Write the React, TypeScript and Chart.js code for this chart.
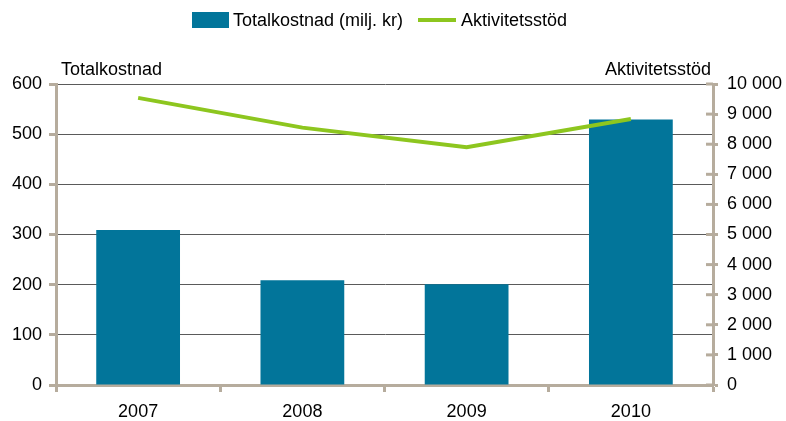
import React, { useEffect, useRef } from "react";
import { Chart, registerables } from "chart.js";

Chart.register(...registerables);

const categories = ["2007", "2008", "2009", "2010"];
const totalkostnad = [309, 209, 201, 529];
const aktivitetsstod = [9540, 8550, 7900, 8840];
const leftTicks = { min: 0, max: 600, step: 100 };
const rightTicks = { min: 0, max: 10000, step: 1000 };
const legendLabels = ["Totalkostnad (milj. kr)", "Aktivitetsstöd"];
const axisTitles = ["Totalkostnad", "Aktivitetsstöd"];

const TEAL = "#02759a";
const GREEN = "#8dc61f";
const TAN = "#b6ac9d";
const GRID = "#5a5a5a";
const FONT = "'Liberation Sans', Arial, sans-serif";

function fmt(v: number): string {
  return String(v).replace(/\B(?=(\d{3})+(?!\d))/g, " ");
}

const extras = {
  id: "extras",
  afterDraw(chart: any) {
    const ctx = chart.ctx;
    const area = chart.chartArea;
    ctx.save();
    // inward stubs on right axis
    const ry = chart.scales.y1;
    ctx.strokeStyle = TAN;
    ctx.lineWidth = 3;
    for (let v = rightTicks.min; v <= rightTicks.max; v += rightTicks.step) {
      const y = ry.getPixelForValue(v);
      ctx.beginPath();
      ctx.moveTo(area.right - 7, y);
      ctx.lineTo(area.right, y);
      ctx.stroke();
    }
    // legend
    ctx.font = `18px ${FONT}`;
    ctx.textBaseline = "middle";
    ctx.fillStyle = TEAL;
    ctx.fillRect(192, 12, 37, 16);
    ctx.fillStyle = "#000";
    ctx.textAlign = "left";
    ctx.fillText(legendLabels[0], 233, 21);
    ctx.strokeStyle = GREEN;
    ctx.lineWidth = 4;
    ctx.beginPath();
    ctx.moveTo(418, 20);
    ctx.lineTo(456, 20);
    ctx.stroke();
    ctx.fillText(legendLabels[1], 461, 21);
    // axis titles
    ctx.textAlign = "left";
    ctx.fillText(axisTitles[0], area.left + 5, 70);
    ctx.textAlign = "right";
    ctx.fillText(axisTitles[1], area.right - 2, 70);
    ctx.restore();
  },
};

export default function App() {
  const ref = useRef<HTMLCanvasElement>(null);
  useEffect(() => {
    if (!ref.current) return;
    const chart = new Chart(ref.current, {
      type: "bar",
      data: {
        labels: categories,
        datasets: [
          {
            type: "line",
            label: legendLabels[1],
            data: aktivitetsstod,
            yAxisID: "y1",
            borderColor: GREEN,
            backgroundColor: GREEN,
            borderWidth: 4,
            pointRadius: 0,
            tension: 0,
            order: 0,
          } as any,
          {
            type: "bar",
            label: legendLabels[0],
            data: totalkostnad,
            yAxisID: "y",
            backgroundColor: TEAL,
            categoryPercentage: 1,
            barPercentage: 0.51,
            order: 1,
          },
        ],
      },
      options: {
        animation: false,
        responsive: true,
        maintainAspectRatio: false,
        layout: { padding: { top: 84, left: 0, right: 0, bottom: 0 } },
        plugins: { legend: { display: false }, tooltip: { enabled: false } },
        scales: {
          x: {
            grid: {
              offset: true,
              drawOnChartArea: false,
              drawTicks: true,
              tickLength: 7,
              tickColor: TAN,
              tickWidth: 3,
            },
            border: { display: true, color: TAN, width: 3 },
            ticks: { color: "#000", font: { family: FONT, size: 18 }, padding: 9 },
            afterFit: (s: any) => {
              s.height = 36;
            },
          },
          y: {
            position: "left",
            min: leftTicks.min,
            max: leftTicks.max,
            ticks: {
              stepSize: leftTicks.step,
              color: "#000",
              font: { family: FONT, size: 18 },
              padding: 7,
            },
            grid: {
              color: GRID,
              lineWidth: 1,
              tickColor: TAN,
              tickWidth: 3,
              tickLength: 7,
            },
            border: { display: true, color: TAN, width: 3 },
            afterFit: (s: any) => {
              s.width = 56;
            },
          },
          y1: {
            position: "right",
            min: rightTicks.min,
            max: rightTicks.max,
            ticks: {
              stepSize: rightTicks.step,
              color: "#000",
              font: { family: FONT, size: 18 },
              padding: 9,
              callback: (v: any) => fmt(Number(v)),
            },
            grid: {
              drawOnChartArea: false,
              tickColor: TAN,
              tickWidth: 3,
              tickLength: 5,
            },
            border: { display: true, color: TAN, width: 3 },
            afterFit: (s: any) => {
              s.width = 73;
            },
          },
        },
      },
      plugins: [extras],
    });
    return () => chart.destroy();
  }, []);
  return (
    <div style={{ position: "fixed", left: 0, top: 0, width: 786, height: 421, background: "#fff" }}>
      <canvas ref={ref} />
    </div>
  );
}
